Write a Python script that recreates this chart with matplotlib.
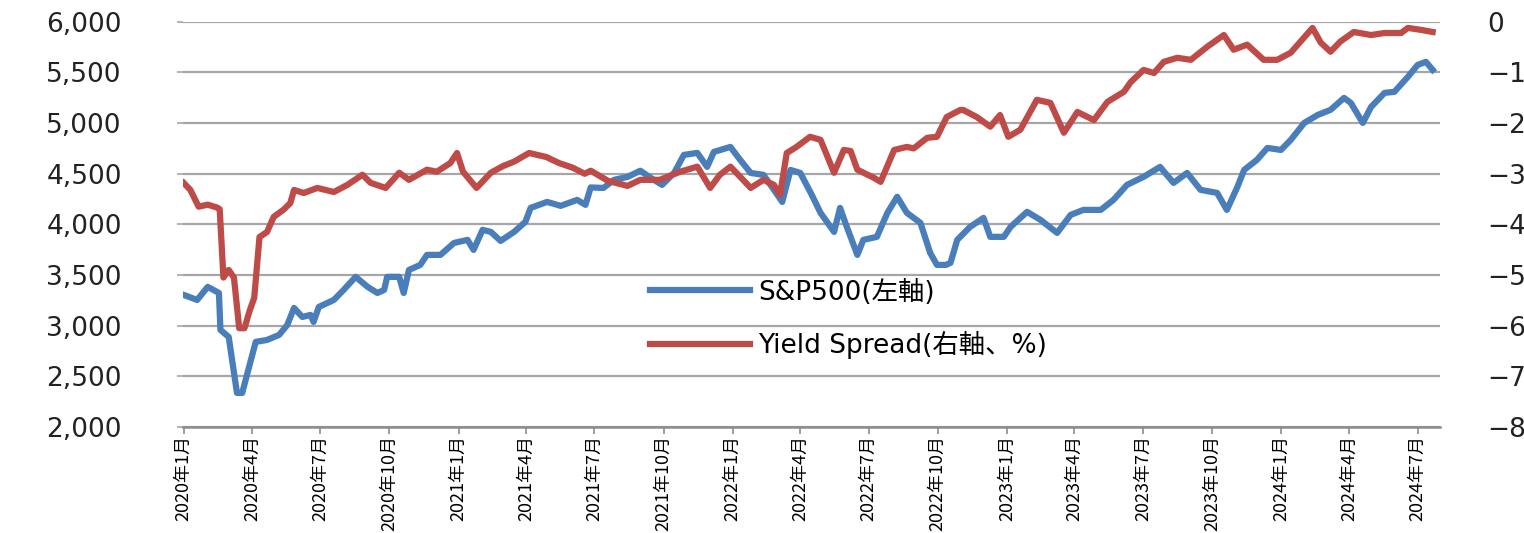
import pandas as pd
import matplotlib
matplotlib.use('Agg')
import matplotlib.pyplot as plt
import matplotlib.ticker as mticker

plt.rcParams['font.family'] = ['DejaVu Sans', 'Noto Sans CJK JP']

# S&P500 (left axis)
sp_dates = [
    '2020-01-01', '2020-01-19', '2020-02-02', '2020-02-17', '2020-02-19', '2020-03-01',
    '2020-03-12', '2020-03-19', '2020-03-26', '2020-04-06', '2020-04-21', '2020-05-07',
    '2020-05-18', '2020-05-27', '2020-06-07', '2020-06-18', '2020-06-22', '2020-06-29',
    '2020-07-19', '2020-08-01', '2020-08-17', '2020-09-02', '2020-09-15', '2020-09-24',
    '2020-09-28', '2020-10-14', '2020-10-20', '2020-10-27', '2020-11-11', '2020-11-20',
    '2020-12-08', '2020-12-26', '2021-01-13', '2021-01-21', '2021-02-02', '2021-02-13',
    '2021-02-26', '2021-03-16', '2021-03-31', '2021-04-07', '2021-04-29', '2021-05-17',
    '2021-06-08', '2021-06-19', '2021-06-26', '2021-07-13', '2021-07-27', '2021-08-14',
    '2021-08-31', '2021-09-14', '2021-09-29', '2021-10-15', '2021-10-28', '2021-11-15',
    '2021-11-28', '2021-12-07', '2021-12-29', '2022-01-11', '2022-01-25', '2022-02-11',
    '2022-02-25', '2022-03-08', '2022-03-19', '2022-04-01', '2022-04-15', '2022-04-28',
    '2022-05-16', '2022-05-24', '2022-06-02', '2022-06-16', '2022-06-24', '2022-07-12',
    '2022-07-26', '2022-08-08', '2022-08-21', '2022-09-08', '2022-09-21', '2022-09-30',
    '2022-10-12', '2022-10-18', '2022-10-27', '2022-11-13', '2022-12-01', '2022-12-10',
    '2022-12-28', '2023-01-06', '2023-01-28', '2023-02-15', '2023-03-09', '2023-03-27',
    '2023-04-13', '2023-05-06', '2023-05-23', '2023-06-10', '2023-07-02', '2023-07-24',
    '2023-08-11', '2023-08-29', '2023-09-16', '2023-10-08', '2023-10-21', '2023-11-04',
    '2023-11-13', '2023-11-30', '2023-12-14', '2024-01-01', '2024-01-14', '2024-02-01',
    '2024-02-19', '2024-03-07', '2024-03-25', '2024-04-03', '2024-04-19', '2024-04-30',
    '2024-05-18', '2024-05-31', '2024-06-18', '2024-07-01', '2024-07-12', '2024-07-21',
]
sp_values = [
    3304, 3254, 3383, 3323, 2958, 2889,
    2336, 2336, 2533, 2840, 2859, 2908,
    3007, 3175, 3086, 3106, 3037, 3185,
    3254, 3353, 3482, 3383, 3323, 3353,
    3482, 3482, 3323, 3550, 3600, 3699,
    3699, 3817, 3847, 3748, 3946, 3926,
    3837, 3926, 4025, 4163, 4222, 4183,
    4242, 4193, 4365, 4360, 4440, 4469,
    4530, 4459, 4390, 4508, 4686, 4706,
    4568, 4716, 4765, 4637, 4508, 4489,
    4341, 4222, 4538, 4508, 4311, 4114,
    3926, 4163, 3975, 3699, 3847, 3877,
    4114, 4272, 4114, 4015, 3718, 3600,
    3600, 3620, 3847, 3975, 4064, 3877,
    3877, 3975, 4124, 4044, 3916, 4094,
    4143, 4143, 4242, 4390, 4469, 4568,
    4410, 4508, 4341, 4311, 4143, 4370,
    4538, 4637, 4755, 4735, 4834, 5002,
    5081, 5131, 5249, 5200, 5002, 5160,
    5299, 5309, 5457, 5575, 5605, 5526,
]

# Yield spread (right axis, %)
spread_dates = [
    '2020-01-01', '2020-01-10', '2020-01-21', '2020-02-02', '2020-02-15', '2020-02-18',
    '2020-02-23', '2020-03-01', '2020-03-08', '2020-03-15', '2020-03-22', '2020-03-29',
    '2020-04-04', '2020-04-11', '2020-04-21', '2020-04-30', '2020-05-13', '2020-05-22',
    '2020-05-27', '2020-06-09', '2020-06-27', '2020-07-19', '2020-08-06', '2020-08-26',
    '2020-09-06', '2020-09-26', '2020-10-14', '2020-10-27', '2020-11-20', '2020-12-03',
    '2020-12-21', '2020-12-30', '2021-01-07', '2021-01-25', '2021-02-13', '2021-03-01',
    '2021-03-16', '2021-04-05', '2021-04-28', '2021-05-15', '2021-06-02', '2021-06-18',
    '2021-06-26', '2021-07-19', '2021-08-14', '2021-08-31', '2021-09-26', '2021-10-23',
    '2021-11-15', '2021-12-02', '2021-12-15', '2021-12-29', '2022-01-11', '2022-01-25',
    '2022-02-11', '2022-02-25', '2022-03-05', '2022-03-14', '2022-03-27', '2022-04-14',
    '2022-04-28', '2022-05-16', '2022-05-29', '2022-06-07', '2022-06-16', '2022-07-08',
    '2022-07-17', '2022-08-04', '2022-08-21', '2022-08-30', '2022-09-17', '2022-09-30',
    '2022-10-13', '2022-10-31', '2022-11-04', '2022-11-22', '2022-12-10', '2022-12-23',
    '2023-01-03', '2023-01-19', '2023-02-10', '2023-02-28', '2023-03-18', '2023-04-05',
    '2023-04-27', '2023-05-15', '2023-06-06', '2023-06-15', '2023-07-02', '2023-07-16',
    '2023-07-29', '2023-08-16', '2023-09-03', '2023-09-25', '2023-10-17', '2023-10-30',
    '2023-11-17', '2023-12-09', '2023-12-27', '2024-01-14', '2024-01-27', '2024-02-12',
    '2024-02-23', '2024-03-07', '2024-03-20', '2024-04-07', '2024-04-30', '2024-05-18',
    '2024-06-09', '2024-06-18', '2024-07-06', '2024-07-21',
]
spread_values = [
    -3.18, -3.32, -3.65, -3.61, -3.67, -3.70,
    -5.05, -4.90, -5.05, -6.05, -6.05, -5.70,
    -5.45, -4.25, -4.15, -3.85, -3.71, -3.58,
    -3.32, -3.38, -3.28, -3.36, -3.22, -3.02,
    -3.18, -3.28, -2.98, -3.12, -2.92, -2.96,
    -2.79, -2.59, -2.96, -3.28, -2.98, -2.85,
    -2.76, -2.59, -2.67, -2.79, -2.88, -3.00,
    -2.94, -3.14, -3.24, -3.12, -3.12, -2.96,
    -2.86, -3.28, -3.02, -2.86, -3.06, -3.28,
    -3.12, -3.22, -3.42, -2.59, -2.47, -2.27,
    -2.33, -2.98, -2.53, -2.55, -2.92, -3.08,
    -3.16, -2.53, -2.47, -2.50, -2.29, -2.27,
    -1.88, -1.74, -1.74, -1.88, -2.07, -1.84,
    -2.27, -2.13, -1.54, -1.60, -2.19, -1.78,
    -1.94, -1.58, -1.38, -1.19, -0.95, -1.01,
    -0.79, -0.71, -0.75, -0.49, -0.26, -0.55,
    -0.45, -0.75, -0.75, -0.61, -0.39, -0.12,
    -0.41, -0.59, -0.39, -0.20, -0.26, -0.22,
    -0.22, -0.12, -0.16, -0.20,
]

tick_dates = pd.date_range('2020-01-01', '2024-07-01', freq='QS')
tick_labels = [f'{d.year}年{d.month}月' for d in tick_dates]

sp = pd.Series(sp_values, index=pd.to_datetime(sp_dates))
spread = pd.Series(spread_values, index=pd.to_datetime(spread_dates))

blue = '#4A7EBB'
red = '#BE4B48'
grid_c = '#A6A6A6'

fig = plt.figure(figsize=(15.24, 5.33), dpi=100)
ax1 = fig.add_axes([0.120, 0.199, 0.825, 0.760])
ax2 = ax1.twinx()

l1, = ax1.plot(sp.index, sp.values, color=blue, lw=4.5, solid_joinstyle='round',
               label='S&P500(左軸)')
l2, = ax2.plot(spread.index, spread.values, color=red, lw=4.5, solid_joinstyle='round',
               label='Yield Spread(右軸、%)')

ax1.set_ylim(2000, 6000)
ax1.set_yticks(range(2000, 6001, 500))
ax1.yaxis.set_major_formatter(mticker.FuncFormatter(lambda v, p: f'{int(v):,}'))
ax2.set_ylim(-8, 0)
ax2.set_yticks(range(-8, 1))

ax1.set_xlim(pd.Timestamp('2019-12-31'), pd.Timestamp('2024-07-31'))
ax1.set_xticks(tick_dates)
ax1.set_xticklabels(tick_labels, rotation=90, fontsize=13, family=['Noto Sans CJK JP'])

ax1.grid(axis='y', color=grid_c, lw=1.6)
ax1.set_axisbelow(True)
for ax in (ax1, ax2):
    for s in ('left', 'right', 'top'):
        ax.spines[s].set_visible(False)
ax1.spines['bottom'].set_color('#8C8C8C')
ax1.spines['bottom'].set_linewidth(1.8)
ax2.spines['bottom'].set_visible(False)

ax1.tick_params(axis='x', length=5, width=1.2, color='#8C8C8C', pad=1)
ax1.tick_params(axis='y', length=4, width=1.2, color='#A6A6A6', pad=40,
                labelsize=19, labelcolor='#222222')
ax2.tick_params(axis='y', length=0, pad=34, labelsize=19, labelcolor='#222222')

ax2.legend(handles=[l1, l2], loc='center left', bbox_to_anchor=(0.3715, 0.266),
           frameon=False, fontsize=19, handlelength=3.8, handletextpad=0.3,
           labelspacing=0.95, borderpad=0, borderaxespad=0)

plt.savefig('out.png', dpi=100)
